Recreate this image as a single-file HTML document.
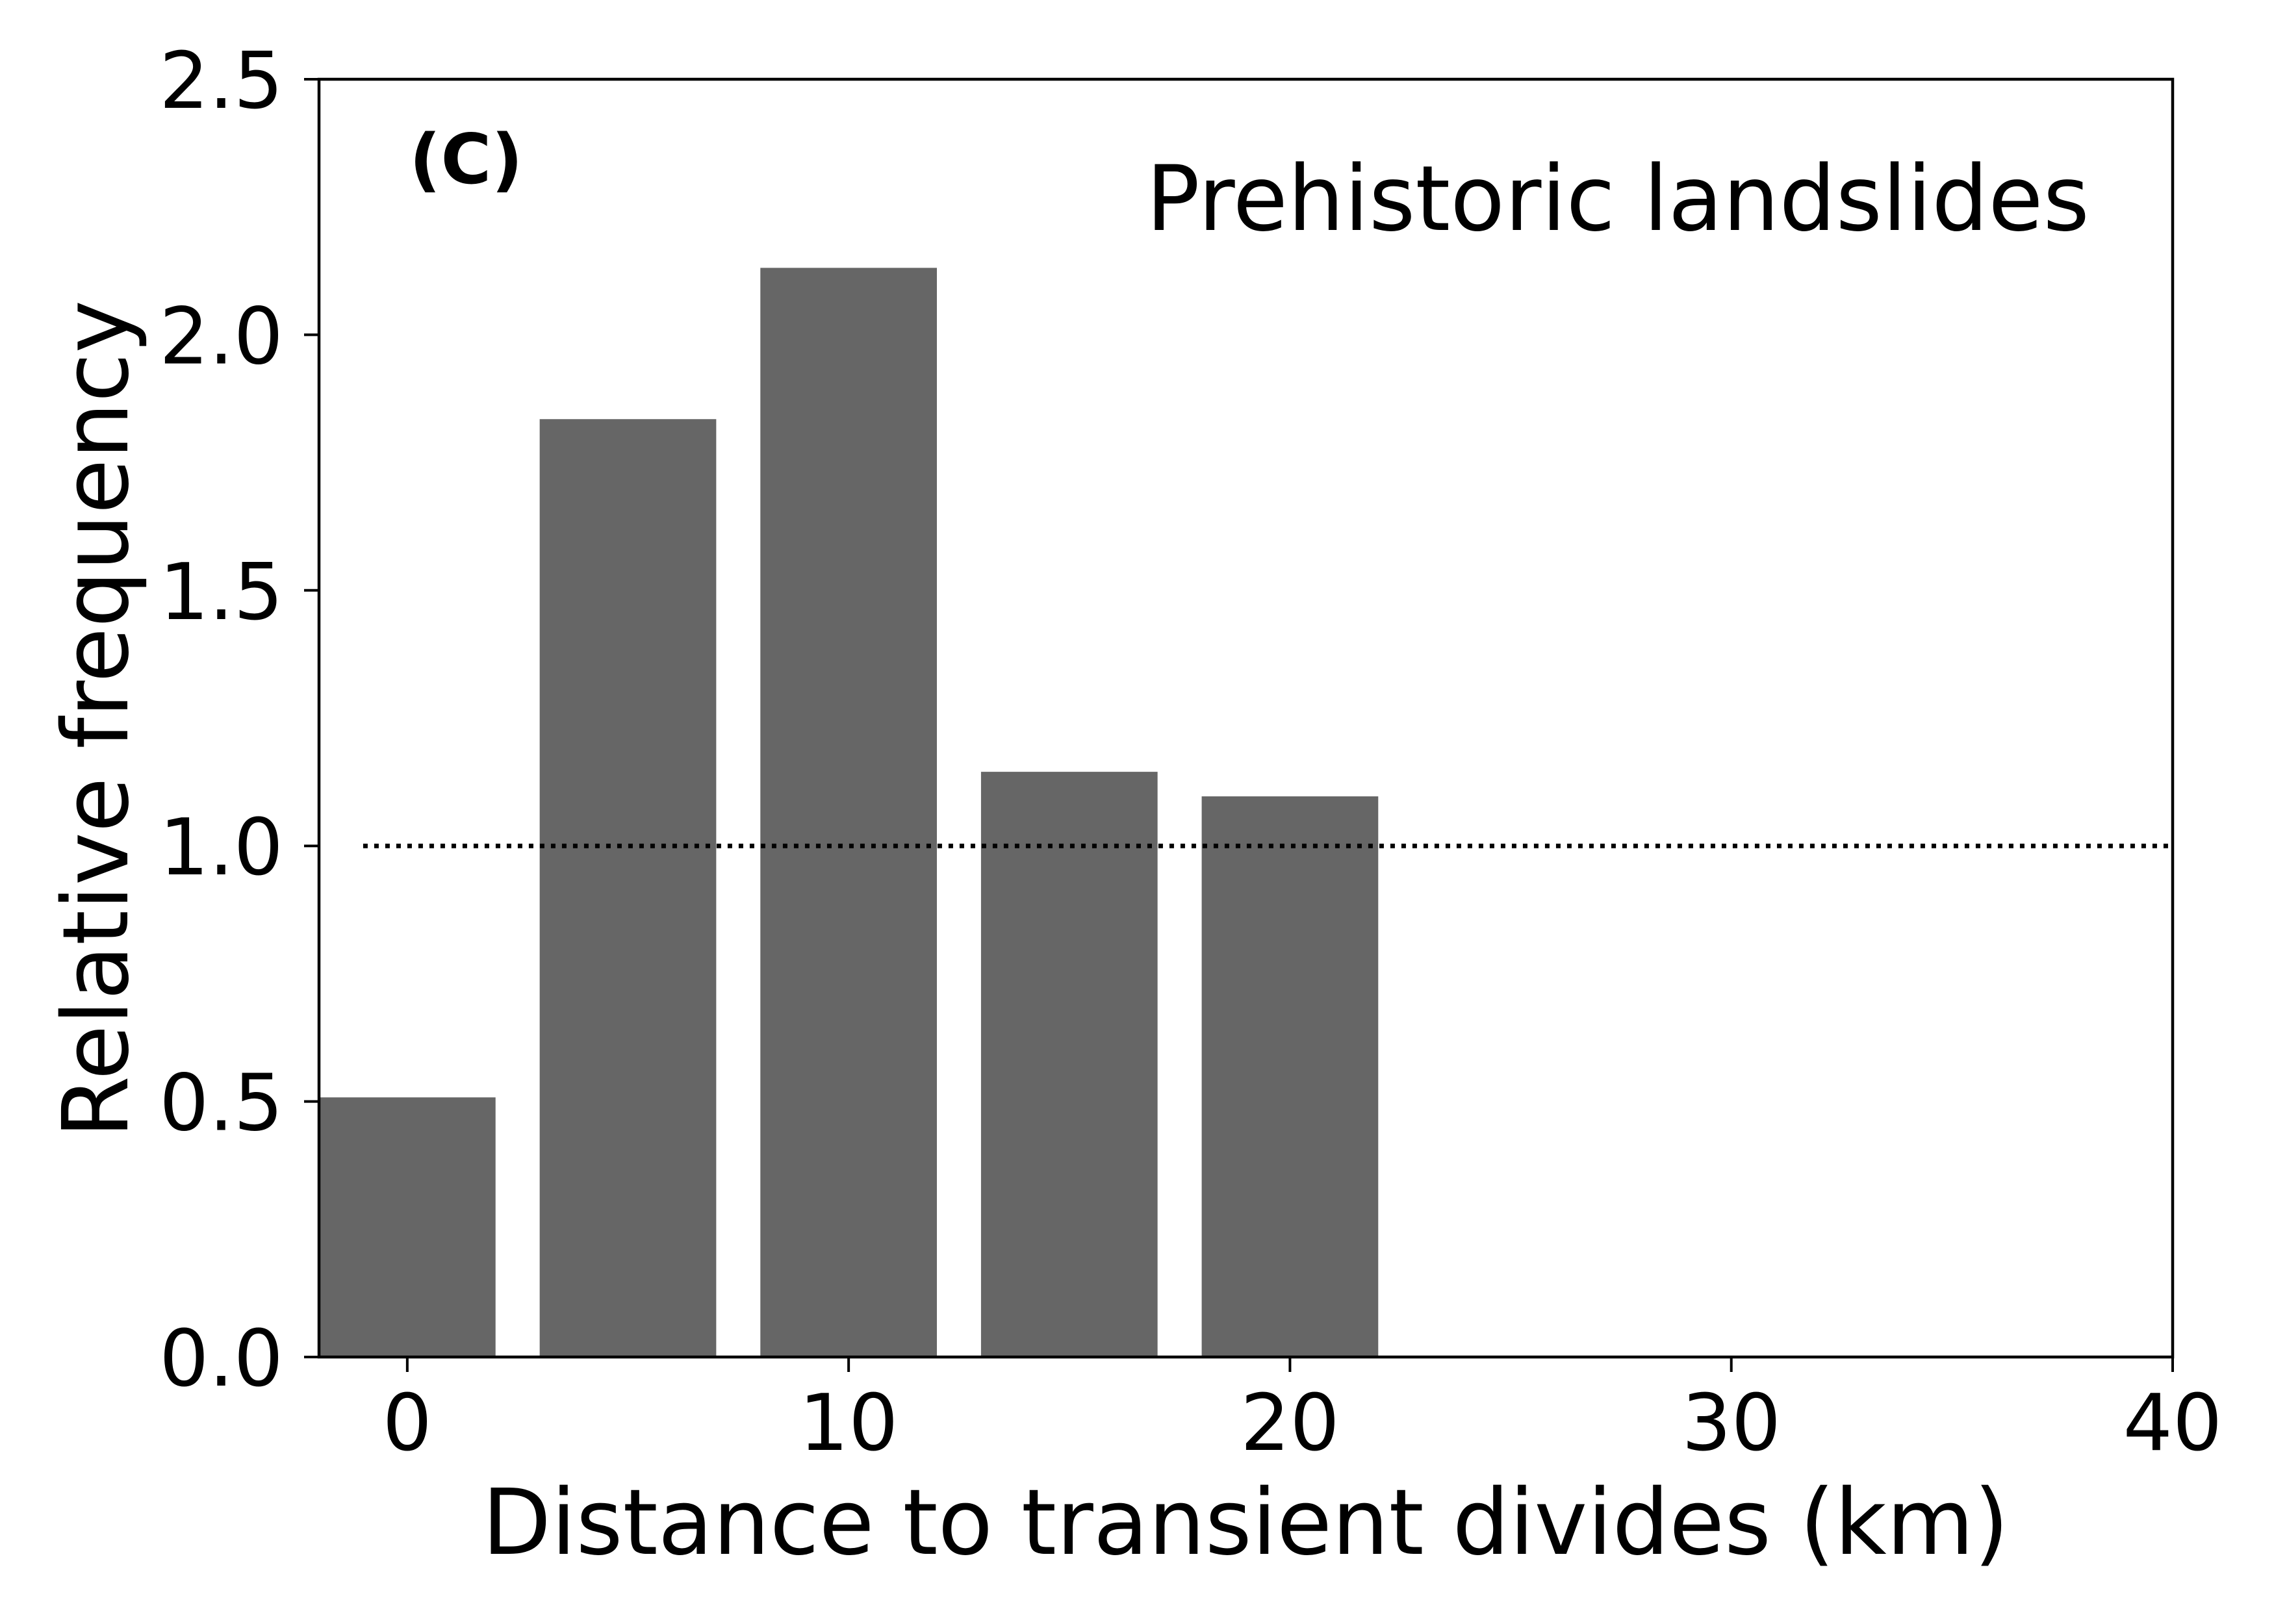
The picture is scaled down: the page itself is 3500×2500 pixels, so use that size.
<!DOCTYPE html>
<html><head><meta charset="utf-8"><style>
html,body{margin:0;padding:0;background:#fff;}
svg{display:block;font-family:"DejaVu Sans","Liberation Sans",sans-serif;}
</style></head><body>
<svg id="chart" width="3500" height="2500" viewBox="0 0 3500 2500" xmlns="http://www.w3.org/2000/svg">
<rect width="3500" height="2500" fill="#fff"/>
<g id="bars"></g>
<g id="ref"></g>
<g id="ticks"></g>
<rect x="491" y="122" width="2853" height="1967" fill="none" stroke="#000" stroke-width="4.5"/>
<text x="630" y="282" font-size="106" font-weight="bold">(C)</text>
<text x="3216" y="354" font-size="139" text-anchor="end" textLength="1452" lengthAdjust="spacingAndGlyphs">Prehistoric landslides</text>
<text x="1917" y="2392" font-size="140" text-anchor="middle" textLength="2350" lengthAdjust="spacingAndGlyphs">Distance to transient divides (km)</text>
<text transform="translate(196,1107) rotate(-90)" font-size="140" text-anchor="middle" textLength="1290" lengthAdjust="spacingAndGlyphs">Relative frequency</text>
</svg>
<script>
const categories = [0, 5, 10, 15, 20];
const values = [0.508, 1.835, 2.131, 1.145, 1.097];
const xTicks = [0, 10, 20, 30, 40];
const yTicks = [0.0, 0.5, 1.0, 1.5, 2.0, 2.5];
const yTickLabels = ["0.0", "0.5", "1.0", "1.5", "2.0", "2.5"];
const refValue = 1.0;
const refStart = -1;
const barWidth = 4;

const X0 = 491, X1 = 3344, Y0 = 2089, Y1 = 122;
const xMin = -2, xMax = 40, yMin = 0, yMax = 2.5;
const sx = v => X0 + (v - xMin) / (xMax - xMin) * (X1 - X0);
const sy = v => Y0 - (v - yMin) / (yMax - yMin) * (Y0 - Y1);
const NS = "http://www.w3.org/2000/svg";
function mk(tag, attrs, parent){const e=document.createElementNS(NS,tag);for(const k in attrs)e.setAttribute(k,attrs[k]);parent.appendChild(e);return e;}

const gb = document.getElementById('bars');
categories.forEach((c,i)=>{
  const r = mk('rect',{x:sx(c-barWidth/2),y:sy(values[i]),width:sx(c+barWidth/2)-sx(c-barWidth/2),height:sy(0)-sy(values[i]),fill:'#666666'},gb);
  
  
});
const gr = document.getElementById('ref');
const ln = mk('line',{x1:sx(refStart),x2:sx(xMax),y1:sy(refValue),y2:sy(refValue),stroke:'#000','stroke-width':7,'stroke-dasharray':'7,10'},gr);



const gt = document.getElementById('ticks');
xTicks.forEach(t=>{
  const l = mk('line',{x1:sx(t),x2:sx(t),y1:Y0,y2:Y0+23,stroke:'#000','stroke-width':4},gt);
  
  
  const tx = mk('text',{x:sx(t),y:2232,'font-size':120,'text-anchor':'middle'},gt);
  tx.textContent = String(t);
  
  
});
yTicks.forEach((t,i)=>{
  const l = mk('line',{x1:X0-23,x2:X0,y1:sy(t),y2:sy(t),stroke:'#000','stroke-width':4},gt);
  
  
  const tx = mk('text',{x:436,y:sy(t)+44,'font-size':120,'text-anchor':'end'},gt);
  tx.textContent = yTickLabels[i];
  
  
});
</script>
</body></html>
